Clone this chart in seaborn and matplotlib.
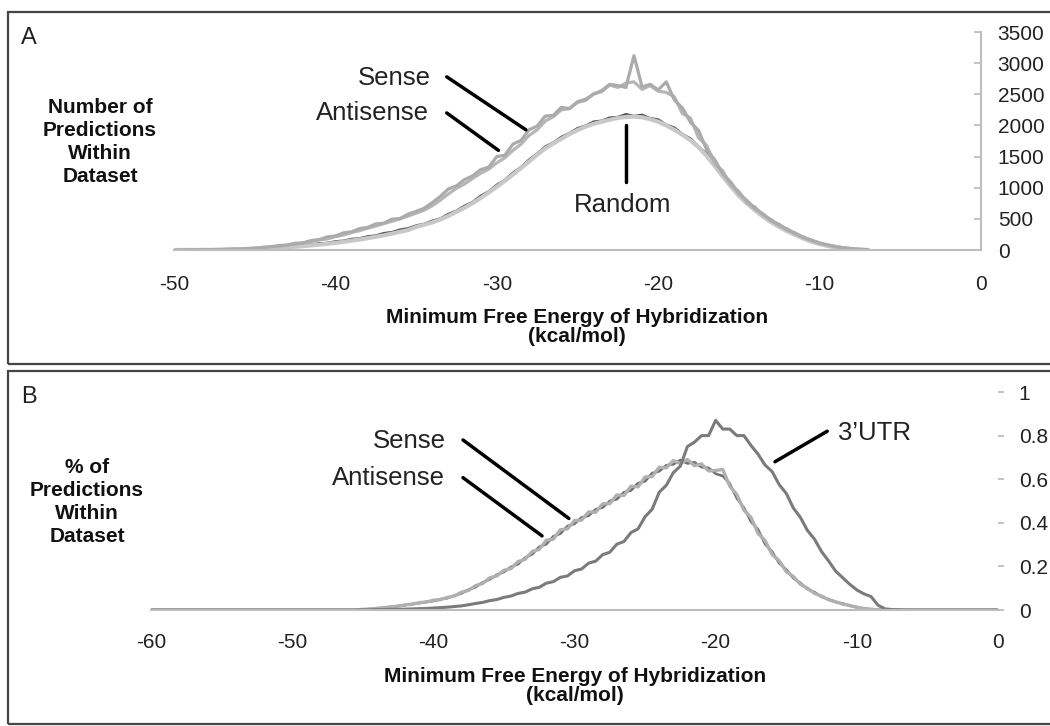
import numpy as np
import pandas as pd
import matplotlib
matplotlib.use("Agg")
import matplotlib.pyplot as plt
from matplotlib.patches import Rectangle
import seaborn as sns

sns.set_style("white")
plt.rcParams["font.family"] = ["Liberation Sans", "DejaVu Sans"]
plt.rcParams["axes.unicode_minus"] = False

# ---------------------------------------------------------------
# Panel A: number of predictions (bins of 0.5 kcal/mol)
# ---------------------------------------------------------------
energy_a = np.arange(-50, -6.9, 0.5)

sense_a = [0, 2, 1, 4, 3, 7, 8, 14, 15, 25,
           28, 44, 50, 72, 80, 108, 115, 152, 168, 210,
           226, 275, 292, 345, 362, 418, 430, 495, 505, 575,
           620, 670, 760, 860, 980, 1030, 1130, 1190, 1290, 1330,
           1500, 1520, 1700, 1760, 1930, 1990, 2150, 2160, 2290, 2270,
           2380, 2420, 2500, 2560, 2660, 2640, 2610, 3120, 2620, 2660,
           2570, 2700, 2410, 2280, 2050, 1920, 1610, 1450, 1220, 1090,
           905, 795, 660, 580, 470, 410, 322, 272, 198, 160,
           108, 84, 52, 37, 19, 11, 4]

antisense_a = [0, 1, 3, 2, 5, 6, 10, 11, 18, 20,
               31, 36, 55, 58, 78, 92, 112, 128, 160, 178,
               215, 240, 280, 310, 350, 385, 425, 460, 500, 545,
               590, 640, 710, 800, 900, 990, 1060, 1150, 1230, 1300,
               1400, 1480, 1600, 1700, 1840, 1930, 2070, 2140, 2250, 2270,
               2370, 2400, 2510, 2540, 2650, 2610, 2680, 2700, 2580, 2640,
               2550, 2530, 2460, 2190, 2120, 1800, 1680, 1380, 1270, 1040,
               940, 760, 690, 555, 490, 390, 340, 255, 212, 150,
               118, 76, 58, 32, 22, 9, 5]

random_dark_a = [0, 2, 1, 3, 4, 4, 7, 7, 12, 14,
                 22, 25, 36, 40, 54, 58, 78, 84, 106, 112,
                 138, 148, 176, 186, 218, 232, 270, 286, 326, 348,
                 392, 420, 468, 505, 578, 630, 708, 770, 870, 940,
                 1045, 1125, 1240, 1330, 1450, 1545, 1660, 1725, 1815, 1875,
                 1955, 1995, 2060, 2075, 2125, 2135, 2180, 2150, 2170, 2115,
                 2095, 2010, 1965, 1860, 1790, 1660, 1545, 1360, 1210, 1030,
                 900, 750, 660, 540, 470, 372, 318, 244, 196, 136,
                 104, 66, 47, 26, 16, 6, 2]

random_light_a = [0, 1, 1, 2, 2, 3, 4, 6, 9, 12,
                  16, 21, 27, 34, 43, 52, 62, 74, 86, 99,
                  114, 131, 150, 168, 190, 212, 236, 262, 292, 320,
                  370, 405, 442, 490, 548, 612, 678, 752, 835, 922,
                  1015, 1110, 1210, 1315, 1420, 1530, 1630, 1710, 1785, 1860,
                  1925, 1980, 2025, 2060, 2090, 2120, 2135, 2140, 2130, 2100,
                  2060, 2000, 1930, 1850, 1760, 1650, 1510, 1350, 1180, 1020,
                  870, 745, 635, 535, 445, 368, 300, 240, 182, 133,
                  94, 65, 42, 26, 14, 6, 1]

# ---------------------------------------------------------------
# Panel B: % of predictions (bins of 0.5 kcal/mol)
# ---------------------------------------------------------------
energy_b = np.arange(-60, 0.1, 0.5)

sense_b = [0.0] * 30 + [
    0.003, 0.004, 0.008, 0.010, 0.015, 0.017, 0.024, 0.026, 0.034, 0.036,
    0.045, 0.047, 0.058, 0.064, 0.082, 0.090, 0.112, 0.122, 0.148, 0.156,
    0.182, 0.190, 0.222, 0.232, 0.268, 0.278, 0.320, 0.325, 0.368, 0.372,
    0.410, 0.412, 0.450, 0.448, 0.487, 0.488, 0.528, 0.525, 0.568, 0.565,
    0.610, 0.612, 0.655, 0.652, 0.685, 0.672, 0.690, 0.662, 0.670, 0.638,
    0.640, 0.645, 0.568, 0.530, 0.458, 0.425, 0.352, 0.318, 0.255, 0.226,
    0.176, 0.154, 0.118, 0.100, 0.076, 0.064, 0.047, 0.038, 0.027, 0.021,
    0.012, 0.007, 0.003, 0.001] + [0.0] * 17

antisense_b = [0.0] * 30 + [
    0.002, 0.005, 0.007, 0.011, 0.014, 0.019, 0.022, 0.028, 0.031, 0.038,
    0.041, 0.050, 0.054, 0.067, 0.076, 0.094, 0.105, 0.127, 0.140, 0.162,
    0.174, 0.198, 0.210, 0.240, 0.255, 0.290, 0.302, 0.338, 0.350, 0.385,
    0.395, 0.425, 0.432, 0.462, 0.470, 0.500, 0.508, 0.540, 0.548, 0.582,
    0.590, 0.628, 0.636, 0.664, 0.668, 0.688, 0.672, 0.678, 0.655, 0.652,
    0.625, 0.615, 0.580, 0.512, 0.470, 0.405, 0.370, 0.302, 0.268, 0.214,
    0.186, 0.146, 0.124, 0.096, 0.082, 0.060, 0.050, 0.036, 0.030, 0.019,
    0.014, 0.006, 0.004, 0.001] + [0.0] * 17

utr_b = [0.0] * 30 + [
    0.001, 0.001, 0.002, 0.002, 0.003, 0.003, 0.004, 0.005, 0.006, 0.007,
    0.009, 0.011, 0.013, 0.016, 0.019, 0.024, 0.030, 0.035, 0.043, 0.048,
    0.058, 0.064, 0.076, 0.082, 0.097, 0.104, 0.123, 0.130, 0.150, 0.156,
    0.180, 0.188, 0.215, 0.224, 0.254, 0.265, 0.302, 0.314, 0.355, 0.372,
    0.428, 0.462, 0.540, 0.572, 0.630, 0.660, 0.750, 0.770, 0.800, 0.800,
    0.870, 0.830, 0.830, 0.800, 0.800, 0.755, 0.715, 0.665, 0.635, 0.575,
    0.535, 0.468, 0.425, 0.365, 0.325, 0.268, 0.225, 0.178, 0.148, 0.118,
    0.092, 0.074, 0.062, 0.022, 0.005, 0.002, 0.001] + [0.0] * 14

xticks_a = [-50, -40, -30, -20, -10, 0]
yticks_a = [0, 500, 1000, 1500, 2000, 2500, 3000, 3500]
xticks_b = [-60, -50, -40, -30, -20, -10, 0]
yticks_b = [0, 0.2, 0.4, 0.6, 0.8, 1]
ytick_labels_b = ["0", "0.2", "0.4", "0.6", "0.8", "1"]

W, H = 1050, 726
fig = plt.figure(figsize=(W / 100, H / 100), dpi=100)


def fx(px):
    return px / W


def fy(py):
    return 1 - py / H


axis_grey = "#bdbdbd"
text_c = "#222222"

# panel frames (right edge runs off the picture, as in the scan)
fig.add_artist(Rectangle((fx(8), fy(364)), fx(1060), 352 / H, transform=fig.transFigure,
                         fill=False, ec="#454545", lw=1.6))
fig.add_artist(Rectangle((fx(8), fy(724)), fx(1060), 353 / H, transform=fig.transFigure,
                         fill=False, ec="#454545", lw=1.6))

# ---------------- panel A ----------------
ax_a = fig.add_axes([fx(174), fy(250), (981 - 174) / W, 218 / H])
df_a = pd.DataFrame({"energy": energy_a, "sense": sense_a, "antisense": antisense_a,
                     "rand_dark": random_dark_a, "rand_light": random_light_a})

sns.lineplot(data=df_a, x="energy", y="rand_dark", ax=ax_a, color="#555555", lw=1.8, estimator=None)
sns.lineplot(data=df_a, x="energy", y="rand_light", ax=ax_a, color="#c8c8c8", lw=3.0, estimator=None)
sns.lineplot(data=df_a, x="energy", y="antisense", ax=ax_a, color="#b6b6b6", lw=2.3, estimator=None)
sns.lineplot(data=df_a, x="energy", y="sense", ax=ax_a, color="#ababab", lw=2.3, estimator=None)

ax_a.set_xlim(-50, 0)
ax_a.set_ylim(0, 3500)
ax_a.set_xticks(xticks_a)
ax_a.set_yticks(yticks_a)
ax_a.yaxis.tick_right()
for s in ["left", "top"]:
    ax_a.spines[s].set_visible(False)
for s in ["bottom", "right"]:
    ax_a.spines[s].set_color(axis_grey)
    ax_a.spines[s].set_linewidth(1.5)
ax_a.tick_params(axis="x", direction="out", length=4, width=1.3, color=axis_grey,
                 labelsize=15, pad=14, labelcolor=text_c)
ax_a.tick_params(axis="y", direction="in", length=5, width=1.3, color=axis_grey,
                 labelsize=15, pad=12, labelcolor=text_c)
ax_a.set_xlabel("")
ax_a.set_ylabel("")

ax_a.text(-34.1, 2760, "Sense", ha="right", va="center", fontsize=18.5, color=text_c)
ax_a.text(-34.2, 2200, "Antisense", ha="right", va="center", fontsize=18.5, color=text_c)
ax_a.text(-22.2, 720, "Random", ha="center", va="center", fontsize=18.5, color=text_c)
ax_a.plot([-33.1, -28.2], [2780, 1930], color="black", lw=2.5)
ax_a.plot([-33.1, -29.9], [2200, 1600], color="black", lw=2.5)
ax_a.plot([-22.0, -22.0], [2010, 1090], color="black", lw=2.5)

fig.text(fx(21), fy(38), "A", fontsize=17, ha="left", va="center", color=text_c)
fig.text(fx(100), fy(142), "Number of\nPredictions\nWithin\nDataset", fontsize=15,
         fontweight="bold", ha="center", va="center", multialignment="center",
         linespacing=1.27, color="#111111")
fig.text(fx(577), fy(327), "Minimum Free Energy of Hybridization\n(kcal/mol)", fontsize=15,
         fontweight="bold", ha="center", va="center", multialignment="center",
         linespacing=1.05, color="#111111")

# ---------------- panel B ----------------
ax_b = fig.add_axes([fx(151), fy(610), (998 - 151) / W, 218 / H])
df_b = pd.DataFrame({"energy": energy_b, "sense": sense_b, "antisense": antisense_b, "utr": utr_b})

sns.lineplot(data=df_b, x="energy", y="antisense", ax=ax_b, color="#6e6e6e", lw=1.8, estimator=None)
sns.lineplot(data=df_b, x="energy", y="sense", ax=ax_b, color="#b0b0b0", lw=2.4, estimator=None)
sns.lineplot(data=df_b, x="energy", y="utr", ax=ax_b, color="#7b7b7b", lw=2.2, estimator=None)

ax_b.set_xlim(-60, 0)
ax_b.set_ylim(0, 1)
ax_b.set_xticks(xticks_b)
ax_b.set_yticks(yticks_b)
ax_b.set_yticklabels(ytick_labels_b)
ax_b.yaxis.tick_right()
for s in ["left", "top", "right"]:
    ax_b.spines[s].set_visible(False)
ax_b.spines["bottom"].set_color(axis_grey)
ax_b.spines["bottom"].set_linewidth(1.5)
ax_b.tick_params(axis="x", direction="out", length=4, width=1.3, color=axis_grey,
                 labelsize=15, pad=12.5, labelcolor=text_c)
ax_b.tick_params(axis="y", direction="out", length=4, width=1.3, color=axis_grey,
                 labelsize=15, pad=11, labelcolor=text_c)
ax_b.set_xlabel("")
ax_b.set_ylabel("")

ax_b.text(-39.1, 0.777, "Sense", ha="right", va="center", fontsize=18.5, color=text_c)
ax_b.text(-39.2, 0.607, "Antisense", ha="right", va="center", fontsize=18.5, color=text_c)
ax_b.text(-11.3, 0.81, "3\u2019UTR", ha="left", va="center", fontsize=18.5, color=text_c)
ax_b.plot([-37.9, -30.4], [0.78, 0.42], color="black", lw=2.5)
ax_b.plot([-37.9, -32.3], [0.607, 0.34], color="black", lw=2.5)
ax_b.plot([-12.1, -15.8], [0.82, 0.68], color="black", lw=2.5)

fig.text(fx(21), fy(397), "B", fontsize=17, ha="left", va="center", color=text_c)
fig.text(fx(87), fy(502), "% of\nPredictions\nWithin\nDataset", fontsize=15,
         fontweight="bold", ha="center", va="center", multialignment="center",
         linespacing=1.27, color="#111111")
fig.text(fx(575), fy(686), "Minimum Free Energy of Hybridization\n(kcal/mol)", fontsize=15,
         fontweight="bold", ha="center", va="center", multialignment="center",
         linespacing=1.05, color="#111111")

fig.savefig("out.png", dpi=100)
